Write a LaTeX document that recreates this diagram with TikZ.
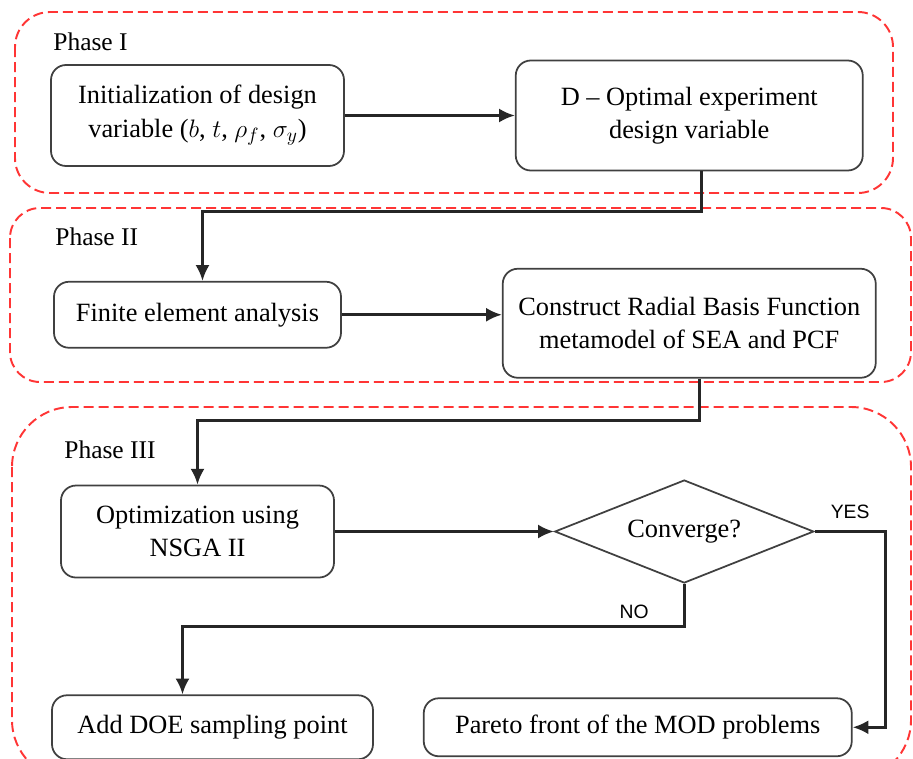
\documentclass[tikz,border=0pt]{standalone}
\usepackage{amsmath,amssymb}
\usepackage{fontspec}
\setmainfont{Liberation Serif}
\setsansfont{Liberation Sans}
\usepackage{xcolor}
\usepackage{tikz}
\usetikzlibrary{arrows.meta,positioning,shapes.geometric,calc}
\definecolor{phasered}{HTML}{FF3535}
\tikzset{
    flow box/.style={
        draw=black!75,
        line width=1pt,
        rounded corners=0.3cm,
        align=center,
        font=\fontsize{15}{19}\selectfont,
        inner sep=4pt
    },
    flow decision/.style={
        draw=black!75,
        line width=1pt,
        diamond,
        aspect=2.5,
        minimum width=5.18cm,
        minimum height=2.06cm,
        inner sep=1pt,
        align=center,
        font=\fontsize{15}{19}\selectfont
    },
    phase frame/.style={draw=phasered, dashed, dash pattern=on 0.2cm off 0.1cm, line width=1.1pt},
    phase title/.style={font=\fontsize{14.5}{17}\selectfont, anchor=west, inner sep=0pt},
    flow label/.style={font=\sffamily\fontsize{11}{13}\selectfont, inner sep=1pt},
    flow arrow/.style={-{Latex[length=9pt, width=8pt]}, line width=1.5pt, draw=black!85}
}

\begin{document}
\begin{tikzpicture}
\useasboundingbox (0,0) rectangle (18.26,-15.18);

% Phase frames
\draw[phase frame, rounded corners=0.7cm] (0.3,-0.24) rectangle (17.86,-3.86);
\draw[phase frame, rounded corners=0.6cm] (0.2,-4.16) rectangle (18.22,-7.64);
\draw[phase frame, rounded corners=1.2cm] (0.24,-8.14) rectangle (18.22,-15.6);
\node[phase title] (p1) at (1.06,-0.84) {Phase I};
\node[phase title] (p2) at (1.1,-4.74) {Phase II};
\node[phase title] (p3) at (1.28,-9.0) {Phase III};

% Phase I
\node[flow box, minimum width=5.86cm, minimum height=2.02cm] (init) at (3.95,-2.31)
    {Initialization of design\\variable ($b$, $t$, $\rho_f$, $\sigma_y$)};
\node[flow box, minimum width=6.94cm, minimum height=2.2cm, right=3.4cm of init] (dopt)
    {D -- Optimal experiment\\design variable};
\draw[flow arrow] (init) -- (dopt);

% Phase II
\node[flow box, minimum width=5.74cm, minimum height=1.32cm, below=2.28cm of init] (fea)
    {Finite element analysis};
\node[flow box, minimum width=7.46cm, minimum height=2.18cm, right=3.2cm of fea, yshift=-0.17cm] (rbf)
    {Construct Radial Basis Function\\metamodel of SEA and PCF};
\draw[flow arrow] ([xshift=0.25cm]dopt.south) -- ++(0,-0.8) -| ([xshift=0.1cm]fea.north);
\draw[flow arrow] (fea.east) -- (fea.east -| rbf.west);

% Phase III
\node[flow box, minimum width=5.46cm, minimum height=1.84cm, below=2.72cm of fea] (nsga)
    {Optimization using\\NSGA II};
\node[flow decision, right=4.38cm of nsga] (conv) {Converge?};
\node[flow box, minimum width=6.42cm, minimum height=1.28cm, below=2.32cm of nsga, xshift=0.3cm] (doe)
    {Add DOE sampling point};
\node[flow box, minimum width=8.56cm, minimum height=1.16cm, right=0.98cm of doe] (pareto)
    {Pareto front of the MOD problems};
\draw[flow arrow] ([xshift=0.2cm]rbf.south) -- ++(0,-0.84) -| (nsga.north);
\draw[flow arrow] (nsga) -- (conv);
\draw[flow arrow] (conv.east) -- ++(1.42,0) node[flow label, midway, above=0.2cm] {YES} |- (pareto.east);
\draw[flow arrow] (conv.south) -- ++(0,-0.85) -| node[flow label, pos=0.05, above=0.1cm] {NO} ([xshift=-0.6cm]doe.north);
\end{tikzpicture}
\end{document}
